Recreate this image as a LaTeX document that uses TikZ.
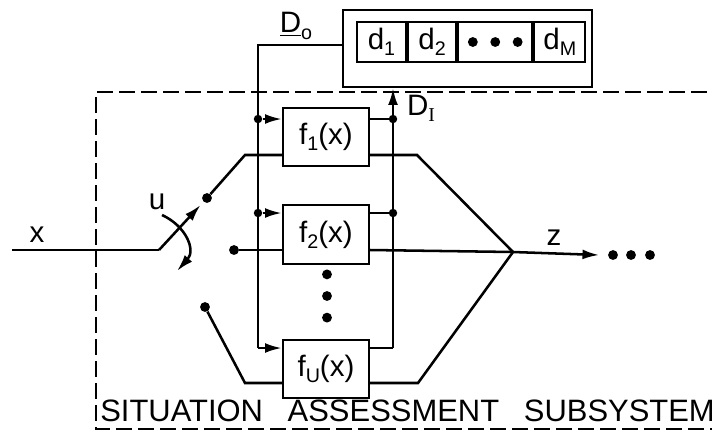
\documentclass[tikz,border=0pt]{standalone}
\usepackage{fontspec}
\setmainfont{Liberation Sans}
\newfontfamily\serifI{Liberation Serif}
\usetikzlibrary{positioning, calc, arrows.meta}

\newcommand{\lsub}[1]{\raisebox{-0.4ex}{\fontsize{14}{14}\selectfont #1}}

\tikzset{
    wire/.style={line width=1.8pt},
    tip/.style={wire, -{Latex[length=12pt,width=7pt]}},
    fbox/.style={draw, line width=1.5pt, minimum width=2.15cm, minimum height=1.46cm, inner sep=0pt, font=\fontsize{21}{22}\selectfont},
    cell/.style={draw, line width=1.5pt, minimum height=1cm, inner sep=0pt, font=\fontsize{21}{22}\selectfont},
    dot/.style={circle, fill, inner sep=0pt, minimum size=6pt},
    bigdot/.style={circle, fill, inner sep=0pt, minimum size=7pt},
    lbl/.style={inner sep=0pt, font=\fontsize{21}{22}\selectfont},
    border/.style={line width=1.2pt, dash pattern=on 0.4cm off 0.15cm}
}

\begin{document}
\begin{tikzpicture}[x=0.025cm, y=-0.025cm]
    \useasboundingbox (0,0) rectangle (717,437);

    % memory
    \node[draw, line width=1.5pt, minimum width=6.225cm, minimum height=1.925cm] (mem) at (467.5,48.5) {};
    \node[cell, minimum width=1.225cm] (d1) at (381.5,42) {d\lsub{1}};
    \node[cell, minimum width=1.2cm, right=0pt of d1] (d2) {d\lsub{2}};
    \node[cell, minimum width=1.85cm, right=0pt of d2] (dd) {};
    \node[cell, minimum width=1.275cm, right=0pt of dd] (dM) {d\lsub{M}};
    \node[bigdot] (m2) at (dd) {};
    \node[bigdot, left=0.3cm of m2] (m1) {};
    \node[bigdot, right=0.3cm of m2] (m3) {};

    % situation functions
    \node[fbox] (f1) at (326,137) {f\lsub{1}(x)};
    \node[fbox, below=0.925cm of f1] (f2) {f\lsub{2}(x)};
    \node[fbox, below=1.85cm of f2] (fU) {f\lsub{U}(x)};
    \node[bigdot] (v2) at (327,296) {};
    \node[bigdot, above=0.28cm of v2] (v1) {};
    \node[bigdot, below=0.28cm of v2] (v3) {};

    % D_O bus and D_I bus
    \coordinate (do) at (258,45);
    \coordinate (di) at (393,348);
    \node[dot] (a1) at (do |- 0,119) {};
    \node[dot] (a2) at (do |- 0,213) {};
    \node[dot] (b1) at (di |- 0,119) {};
    \node[dot] (b2) at (di |- 0,213) {};
    \draw[wire] (mem.west |- do) -- (do) -- (do |- di);
    \draw[tip] (do |- di) -- (fU.west |- di);
    \draw[tip] (a1) -- (f1.west |- a1);
    \draw[tip] (a2) -- (f2.west |- a2);
    \draw[wire] (f1.east |- b1) -- (b1);
    \draw[wire] (f2.east |- b2) -- (b2);
    \draw[wire] (fU.east |- di) -- (di);
    \draw[tip] (di) -- (di |- mem.south);
    \node[lbl] (DO) at (296,26) {\underline{D}\lsub{o}};
    \node[lbl] (DI) at (421,108) {D\lsub{\serifI I}};

    % switch
    \coordinate (xin) at (12,250);
    \coordinate (sw) at (159,250);
    \node[bigdot] (s1) at (207,198) {};
    \node[bigdot] (s2) at (234,250) {};
    \node[bigdot] (s3) at (205,307) {};
    \draw[wire] (xin) -- (sw);
    \draw[tip, shorten >=3pt] (sw) -- (s1);
    \coordinate (ua) at (162,215);
    \coordinate (ub) at (177,271);
    \draw[wire, -{Latex[length=12pt,width=7pt]}] (ua) .. controls (186,226) and (196,250) .. (ub);
    \node[lbl] (x) at (37,235) {x};
    \node[lbl] (u) at (157,202) {u};

    % paths to the junction
    \coordinate (J) at (513,252);
    \coordinate (p1) at (245,155);
    \coordinate (q1) at (417,155);
    \coordinate (p3) at (245,383);
    \coordinate (q3) at (418,383);
    \draw[wire] (s1) -- (p1) -- (f1.west |- p1);
    \draw[wire] (f1.east |- q1) -- (q1) -- (J);
    \draw[wire] (s2) -- (f2.west |- s2);
    \draw[wire] (f2.east |- s2) -- (J);
    \draw[wire] (s3) -- (p3) -- (fU.west |- p3);
    \draw[wire] (fU.east |- q3) -- (q3) -- (J);

    % output
    \node[bigdot] (z1) at (613,255) {};
    \node[bigdot] (z2) at (631,255) {};
    \node[bigdot] (z3) at (650,255) {};
    \draw[tip] (J) -- ($(z1.west)+(-6pt,0)$);
    \node[lbl] (z) at (554,238) {z};

    % subsystem border
    \draw[border] (707,92) -- (96,92) -- (96,429) -- (712,429);
    \node[inner sep=0pt, anchor=south west, font=\fontsize{22}{24}\selectfont] (title) at (100,422) {SITUATION\hspace{0.8em}ASSESSMENT\hspace{0.8em}SUBSYSTEM};
\end{tikzpicture}
\end{document}
